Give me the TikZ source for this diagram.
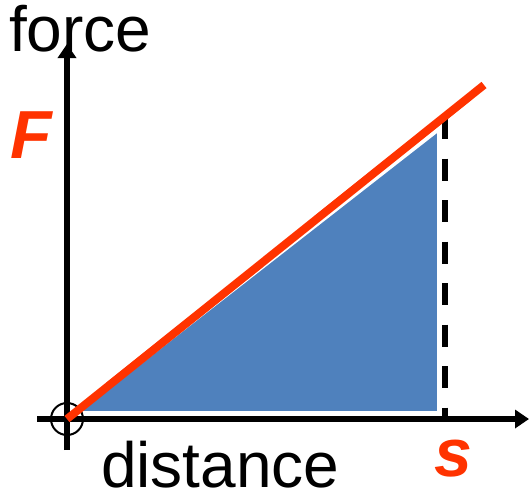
\documentclass[tikz,border=0pt]{standalone}
\usepackage{fontspec}
\setmainfont{Liberation Sans}
\usetikzlibrary{arrows.meta}
\definecolor{fred}{HTML}{FF3300}
\definecolor{fblue}{HTML}{4F81BD}
\begin{document}
\begin{tikzpicture}[x=1pt,y=-1pt,
  axis/.style={line width=5.5pt,-{Triangle[length=14pt,width=18pt]}},
  redline/.style={fred,line width=8pt},
  dashline/.style={line width=6pt,dash pattern=on 22pt off 19.5pt},
  area/.style={fill=fblue,draw=white,line width=2pt},
  lbl/.style={font=\fontsize{64}{64}\selectfont,inner sep=0pt,anchor=base west,text depth=0pt},
  redlbl/.style={font=\fontsize{68}{68}\selectfont\bfseries\itshape,text=fred,inner sep=0pt,anchor=base west,text depth=0pt}]
\useasboundingbox (0,0) rectangle (529,496);
\coordinate (O) at (67,419);
\coordinate (xl) at (37,419);
\coordinate (xr) at (529,419);
\coordinate (yb) at (67,450);
\coordinate (yt) at (67,44);
\coordinate (T1) at (78,412);
\coordinate (T2) at (438,412);
\coordinate (T3) at (438,131);
\coordinate (D1) at (445,117);
\coordinate (D2) at (445,419);
\coordinate (R) at (484,85);
\filldraw[area] (T1) -- (T2) -- (T3) -- cycle;
\draw[dashline] (D1) -- (D2);
\draw[axis] (xl) -- (xr);
\draw[axis] (yb) -- (yt);
\draw[line width=2pt] (O) circle[radius=16];
\draw[redline] (O) -- (R);
\node[lbl] (force) at (9,51) {force};
\node[lbl] (dist) at (101,487) {distance};
\node[redlbl] (F) at (10,158) {F};
\node[redlbl] (s) at (434,476) {s};
\end{tikzpicture}
\end{document}
